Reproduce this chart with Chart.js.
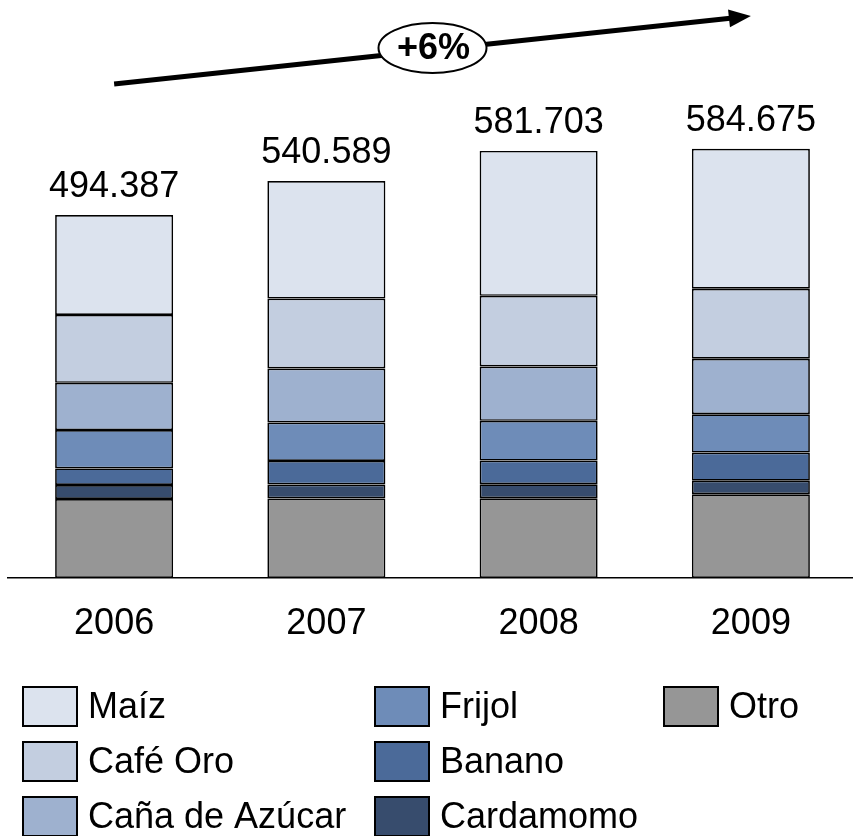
<!DOCTYPE html>
<html>
<head>
<meta charset="utf-8">
<script src="https://cdn.jsdelivr.net/npm/chart.js@4"></script>
<style>
  html, body { margin: 0; padding: 0; background: #fff; overflow: hidden; }
</style>
</head>
<body>
<canvas id="chart" width="857" height="836"></canvas>
<script>
const YEARS = ["2006", "2007", "2008", "2009"];

// stacked bottom -> top
const otro       = [107500, 108400, 108600, 114100];
const cardamomo  = [19100, 19000, 19100, 18500];
const banano     = [22700, 32100, 32200, 38200];
const frijol     = [52100, 52300, 54100, 52300];
const canaAzucar = [64400, 73500, 74000, 75400];
const cafeOro    = [92500, 95200, 96300, 95400];
const maiz       = [136087, 160089, 197403, 190775];

const growthLabel = "+6%";
const FONT = "'Liberation Sans', Arial, sans-serif";

const SERIES = [
  { label: "Otro", data: otro, color: "#969696" },
  { label: "Cardamomo", data: cardamomo, color: "#374C6D" },
  { label: "Banano", data: banano, color: "#4B6A99" },
  { label: "Frijol", data: frijol, color: "#6E8CB8" },
  { label: "Caña de Azúcar", data: canaAzucar, color: "#9EB1CF" },
  { label: "Café Oro", data: cafeOro, color: "#C3CEE0" },
  { label: "Maíz", data: maiz, color: "#DCE3EE" },
];

// legend grid, column by column
const LEGEND_COLUMNS = [
  ["Maíz", "Café Oro", "Caña de Azúcar"],
  ["Frijol", "Banano", "Cardamomo"],
  ["Otro"],
];

function fmt(n) {
  return String(Math.round(n)).replace(/\B(?=(\d{3})+(?!\d))/g, ".");
}

const extras = {
  id: "extras",
  afterDraw(chart) {
    const ctx = chart.ctx;
    const x = chart.scales.x;
    const last = chart.getDatasetMeta(SERIES.length - 1);

    // totals above bars
    ctx.save();
    ctx.fillStyle = "#000";
    ctx.font = "36px " + FONT;
    ctx.textAlign = "center";
    ctx.textBaseline = "alphabetic";
    YEARS.forEach((y, i) => {
      const total = SERIES.reduce((s, d) => s + d.data[i], 0);
      const bar = last.data[i];
      ctx.fillText(fmt(total), bar.x, bar.y - 18);
    });
    ctx.restore();

    // growth arrow
    const x0 = x.getPixelForValue(0), x1 = x.getPixelForValue(YEARS.length - 1);
    const y0 = 84, y1 = 16;
    const ang = Math.atan2(y1 - y0, x1 - x0);
    ctx.save();
    ctx.strokeStyle = "#000";
    ctx.fillStyle = "#000";
    ctx.lineWidth = 5;
    ctx.beginPath();
    ctx.moveTo(x0, y0);
    ctx.lineTo(x1 - 16 * Math.cos(ang), y1 - 16 * Math.sin(ang));
    ctx.stroke();
    ctx.beginPath();
    ctx.moveTo(x1, y1);
    ctx.lineTo(x1 - 22 * Math.cos(ang) + 9 * Math.sin(ang), y1 - 22 * Math.sin(ang) - 9 * Math.cos(ang));
    ctx.lineTo(x1 - 22 * Math.cos(ang) - 9 * Math.sin(ang), y1 - 22 * Math.sin(ang) + 9 * Math.cos(ang));
    ctx.closePath();
    ctx.fill();
    const cx = (x0 + x1) / 2, cy = (y0 + y1) / 2 - 2;
    ctx.beginPath();
    ctx.ellipse(cx, cy, 54, 25, 0, 0, Math.PI * 2);
    ctx.fillStyle = "#fff";
    ctx.fill();
    ctx.lineWidth = 2;
    ctx.stroke();
    ctx.fillStyle = "#000";
    ctx.font = "bold 36px " + FONT;
    ctx.textAlign = "center";
    ctx.textBaseline = "middle";
    ctx.fillText(growthLabel, cx + 1, cy + 1);
    ctx.restore();

    // legend
    const colX = [23, 375, 664];
    const rowY = [687, 742, 797];
    ctx.save();
    ctx.font = "36px " + FONT;
    ctx.textBaseline = "middle";
    ctx.textAlign = "left";
    LEGEND_COLUMNS.forEach((col, c) => {
      col.forEach((name, r) => {
        const s = SERIES.find(d => d.label === name);
        const bx = colX[c], by = rowY[r];
        ctx.fillStyle = s.color;
        ctx.fillRect(bx, by, 54, 39);
        ctx.strokeStyle = "#000";
        ctx.lineWidth = 2;
        ctx.strokeRect(bx, by, 54, 39);
        ctx.fillStyle = "#000";
        ctx.fillText(name, bx + 65, by + 21);
      });
    });
    ctx.restore();
  }
};

new Chart(document.getElementById("chart"), {
  type: "bar",
  data: {
    labels: YEARS,
    datasets: SERIES.map(s => ({
      label: s.label,
      data: s.data,
      backgroundColor: s.color,
      borderColor: "#000",
      borderWidth: 1.7,
      borderSkipped: false,
      barPercentage: 0.556,
      categoryPercentage: 1,
    })),
  },
  options: {
    responsive: false,
    animation: false,
    layout: { padding: { top: 100, left: 8, right: 0, bottom: 0 } },
    plugins: { legend: { display: false }, tooltip: { enabled: false } },
    scales: {
      x: {
        stacked: true,
        grid: { display: false, drawTicks: false },
        border: { display: true, color: "#000", width: 1.5 },
        ticks: { color: "#000", font: { family: FONT, size: 36 }, padding: 24 },
        afterFit: (scale) => { scale.height = 258; },
      },
      y: {
        stacked: true,
        display: false,
        min: 0,
        max: 651000,
      },
    },
  },
  plugins: [extras],
});
</script>
</body>
</html>
